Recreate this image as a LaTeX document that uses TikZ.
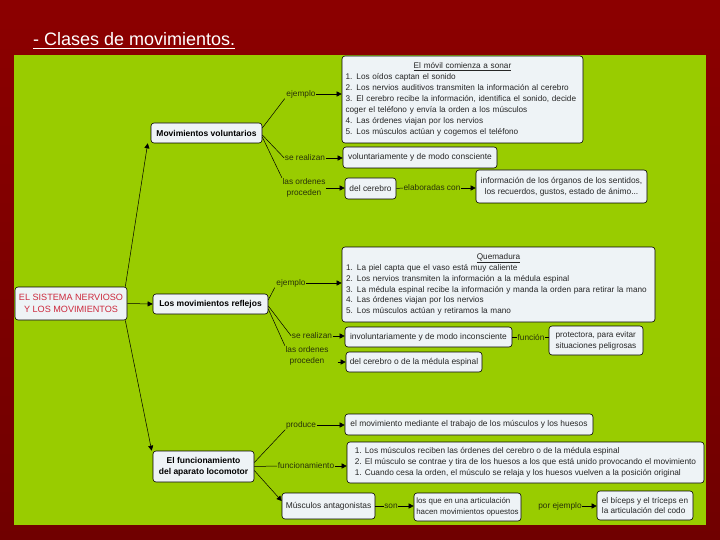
\documentclass[tikz,border=0pt]{standalone}
\usepackage{fontspec}
\setmainfont{Liberation Sans}
\usetikzlibrary{arrows.meta}
\definecolor{bgtop}{RGB}{140,0,0}
\definecolor{bgbot}{RGB}{112,0,0}
\definecolor{panel}{RGB}{153,204,0}
\definecolor{boxfill}{RGB}{238,243,246}
\definecolor{redtxt}{RGB}{204,40,60}
\definecolor{lbltxt}{RGB}{40,50,10}
\tikzset{
  box/.style={draw=black, line width=0.6pt, fill=boxfill, rounded corners=3pt, inner sep=0pt,
    font=\fontsize{8.4}{10.9}\selectfont, text=black!85},
  boldbox/.style={box, font=\fontsize{8.5}{11}\selectfont\bfseries, text=black},
  lbl/.style={inner sep=0.5pt, font=\fontsize{8.3}{11.5}\selectfont, text=lbltxt, align=center},
  conn/.style={draw=black, line width=0.5pt},
  arr/.style={conn, -{Triangle[length=5pt,width=5pt]}},
}
\begin{document}
\begin{tikzpicture}[x=1pt,y=-1pt]
\useasboundingbox (0,0) rectangle (720,540);
\shade[top color=bgtop, bottom color=bgbot] (0,0) rectangle (720,540);
\fill[panel] (14,55) rectangle (706,525);

% title
\node[anchor=base west, inner sep=0pt, text=white, font=\fontsize{18}{20}\selectfont] (title) at (33,46) {- Clases de movimientos.};
\draw[white, line width=1pt] ([yshift=-3pt]title.base west) -- ([yshift=-3pt]title.base east);

% main boxes
\node[box, minimum width=112pt, minimum height=33pt, text=redtxt, align=center,
  font=\fontsize{9.1}{11.5}\selectfont] (main) at (71,303.5) {EL SISTEMA NERVIOSO\\Y LOS MOVIMIENTOS};
\node[boldbox, minimum width=111pt, minimum height=20pt] (vol) at (206.5,133) {Movimientos voluntarios};
\node[boldbox, minimum width=115pt, minimum height=20pt] (refl) at (210.5,304) {Los movimientos reflejos};
\node[boldbox, minimum width=101pt, minimum height=31pt, align=center] (func) at (203.5,466.5) {El funcionamiento\\del aparato locomotor};
\node[box, minimum width=93pt, minimum height=26pt] (antag) at (328.5,506) {Músculos antagonistas};

% voluntarios
\node[box, minimum width=241pt, minimum height=87pt, text width=234pt, align=left,
  font=\fontsize{8.2}{10.9}\selectfont] (ex1) at (462.5,99.5)
 {\makebox[\linewidth]{\underline{El móvil comienza a sonar}}\\
  1. Los oídos captan el sonido\\
  2. Los nervios auditivos transmiten la información al cerebro\\
  3. El cerebro recibe la información, identifica el sonido, decide\\
  coger el teléfono y envía la orden a los músculos\\
  4. Las órdenes viajan por los nervios\\
  5. Los músculos actúan y cogemos el teléfono};
\node[box, minimum width=154pt, minimum height=21pt] (volc) at (420,157.5) {voluntariamente y de modo consciente};
\node[box, minimum width=51pt, minimum height=21pt] (delcer) at (370.5,188.5) {del cerebro};
\node[box, minimum width=171pt, minimum height=33pt, align=center] (info) at (561.5,186.5)
 {información de los órganos de los sentidos,\\los recuerdos, gustos, estado de ánimo...};

% reflejos
\node[box, minimum width=313pt, minimum height=75pt, text width=305pt, align=left,
  font=\fontsize{8.2}{10.9}\selectfont] (quem) at (498.5,284.5)
 {\makebox[\linewidth]{\underline{Quemadura}}\\
  1. La piel capta que el vaso está muy caliente\\
  2. Los nervios transmiten la información a la médula espinal\\
  3. La médula espinal recibe la información y manda la orden para retirar la mano\\
  4. Las órdenes viajan por los nervios\\
  5. Los músculos actúan y retiramos la mano};
\node[box, minimum width=167pt, minimum height=20pt] (invol) at (428.5,337) {involuntariamente y de modo inconsciente};
\node[box, minimum width=94pt, minimum height=29pt, align=left, font=\fontsize{8.2}{10.8}\selectfont] (protec) at (596,340.5)
 {protectora, para evitar\\situaciones peligrosas};
\node[box, minimum width=136pt, minimum height=20pt] (delcermed) at (414,362) {del cerebro o de la médula espinal};

% aparato locomotor
\node[box, minimum width=248pt, minimum height=21pt] (mov) at (469,424.5) {el movimiento mediante el trabajo de los músculos y los huesos};
\node[box, minimum width=357pt, minimum height=41pt, align=left, font=\fontsize{8.3}{11}\selectfont] (func3) at (525.5,462.5)
 {1. Los músculos reciben las órdenes del cerebro o de la médula espinal\\
  2. El músculo se contrae y tira de los huesos a los que está unido provocando el movimiento\\
  1. Cuando cesa la orden, el músculo se relaja y los huesos vuelven a la posición original};
\node[box, minimum width=107pt, minimum height=28pt, align=left, font=\fontsize{7.9}{10.8}\selectfont] (opuestos) at (467.5,507)
 {los que en una articulación\\hacen movimientos opuestos};
\node[box, minimum width=96pt, minimum height=29pt, align=left, font=\fontsize{8.2}{10.8}\selectfont] (biceps) at (645,505.5)
 {el bíceps y el tríceps en\\la articulación del codo};

% labels
\node[lbl] (ej1) at (301,94) {ejemplo};
\node[lbl] (sr1) at (305,158) {se realizan};
\node[lbl] (lo1) at (304,188) {las ordenes\\proceden};
\node[lbl] (elab) at (432,188) {elaboradas con};
\node[lbl] (ej2) at (291,283) {ejemplo};
\node[lbl] (sr2) at (312,336) {se realizan};
\node[lbl] (lo2) at (307,356) {las ordenes\\proceden};
\node[lbl] (funl) at (531,337) {función};
\node[lbl] (prod) at (301,425) {produce};
\node[lbl] (fun) at (306,466) {funcionamiento};
\node[lbl] (son) at (391,506) {son};
\node[lbl] (pe) at (560,506) {por ejemplo};

% connectors from main
\draw[arr] ([xshift=-2pt]main.north east) -- ([xshift=-3pt]vol.south west);
\draw[arr] (main.east) -- (refl.west);
\draw[arr] ([xshift=-2pt]main.south east) -- ([xshift=-1pt]func.north west);

% voluntarios connectors
\draw[conn] ([yshift=5pt]vol.east) -- ([xshift=-1pt]ej1.south west);
\draw[arr] (ej1.east) -- (ej1.east -| ex1.west);
\draw[conn] ([yshift=-2pt]vol.east) -- (sr1.west);
\draw[arr] (sr1.east) -- (sr1.east -| volc.west);
\draw[conn] ([yshift=-4pt]vol.east) -- (lo1.north west);
\draw[arr] (lo1.east) -- (lo1.east -| delcer.west);
\draw[conn] (delcer.east) -- (elab.west);
\draw[arr] (elab.east) -- (elab.east -| info.west);

% reflejos connectors
\draw[conn] ([yshift=4pt]refl.east) -- ([xshift=-1pt]ej2.south west);
\draw[arr] (ej2.east) -- (ej2.east -| quem.west);
\draw[conn] ([yshift=-2pt]refl.east) -- (sr2.west);
\draw[arr] (sr2.east) -- (sr2.east -| invol.west);
\draw[conn] ([yshift=-5pt]refl.east) -- (lo2.north west);
\draw[arr] ([xshift=-8pt]delcermed.west) -- (delcermed.west);
\draw[conn] (invol.east) -- (funl.west);
\draw[conn] (funl.east) -- (funl.east -| protec.west);

% locomotor connectors
\draw[conn] ([yshift=4pt]func.east) -- (prod.south west);
\draw[arr] (prod.east) -- (prod.east -| mov.west);
\draw[conn] (func.east) -- (fun.west);
\draw[arr] (fun.east) -- (fun.east -| func3.west);
\draw[arr] ([yshift=-4pt]func.east) -- ([yshift=5pt]antag.west);
\draw[conn] (antag.east) -- (son.west);
\draw[arr] (son.east) -- (son.east -| opuestos.west);
\draw[arr] (pe.east) -- (pe.east -| biceps.west);
\end{tikzpicture}
\end{document}
